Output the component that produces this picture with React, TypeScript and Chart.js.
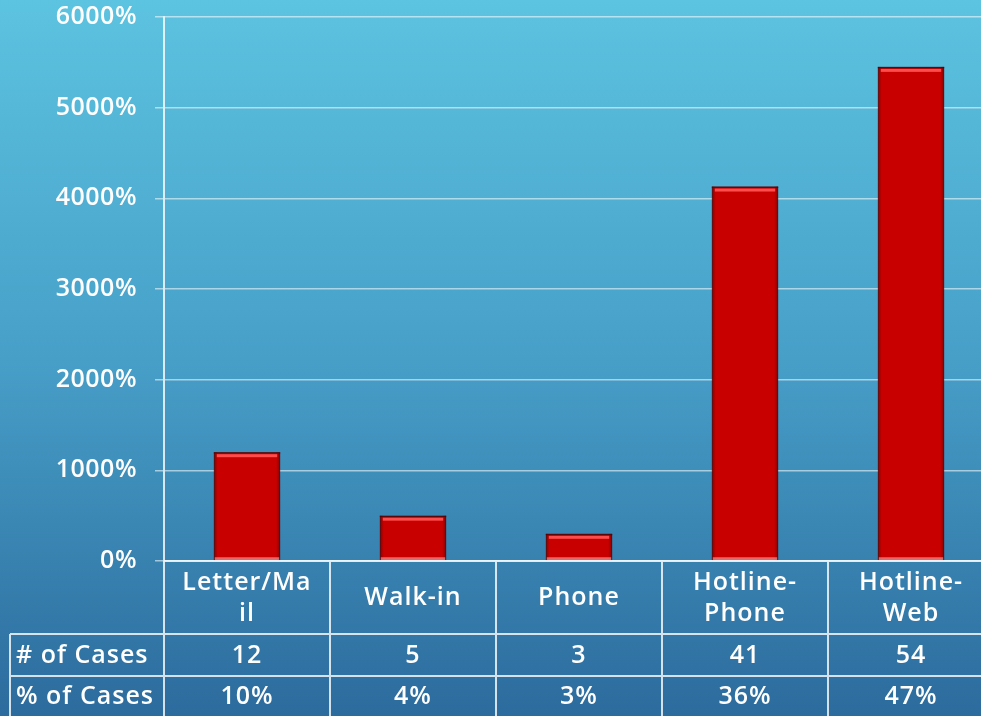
import React, { useEffect, useRef } from "react";
import { Chart, registerables } from "chart.js";

Chart.register(...registerables);

const categories = ["Letter/Mail", "Walk-in", "Phone", "Hotline-Phone", "Hotline-Web"];
const categoryLines = [["Letter/Ma", "il"], ["Walk-in"], ["Phone"], ["Hotline-", "Phone"], ["Hotline-", "Web"]];
const barValues = [1200, 500, 300, 4130, 5450];
const caseCounts = ["12", "5", "3", "41", "54"];
const casePercents = ["10%", "4%", "3%", "36%", "47%"];
const rowLabels = ["# of Cases", "% of Cases"];
const yMax = 6000;
const yStep = 1000;

const FONT = "'Open Sans', Lato, sans-serif";

const spacing = {
  id: "spacing",
  beforeDraw(chart: any) {
    chart.ctx.letterSpacing = "0.5px";
  },
};

const barDecor = {
  id: "barDecor",
  afterDatasetsDraw(chart: any) {
    const ctx = chart.ctx;
    const meta = chart.getDatasetMeta(0);
    meta.data.forEach((el: any) => {
      const { x, y, base, width } = el.getProps(["x", "y", "base", "width"], true);
      const l = x - width / 2;
      const r = x + width / 2;
      ctx.save();
      const g = ctx.createLinearGradient(l, 0, r, 0);
      g.addColorStop(0, "rgba(80,0,0,0.55)");
      g.addColorStop(0.06, "rgba(80,0,0,0)");
      g.addColorStop(0.94, "rgba(80,0,0,0)");
      g.addColorStop(1, "rgba(80,0,0,0.6)");
      ctx.fillStyle = g;
      ctx.fillRect(l, y, width, base - y);
      ctx.fillStyle = "rgba(255,80,80,0.95)";
      ctx.fillRect(l + 3, y + 2, width - 6, 3);
      ctx.fillStyle = "rgba(90,0,0,0.8)";
      ctx.fillRect(l, y, width, 1.5);
      ctx.fillStyle = "rgba(255,190,190,0.55)";
      ctx.fillRect(l + 1, base - 3, width - 2, 3);
      ctx.restore();
    });
  },
};

const tablePlugin = {
  id: "dataTable",
  afterDraw(chart: any) {
    const ctx = chart.ctx;
    const area = chart.chartArea;
    const xs = chart.scales.x;
    const n = categories.length;
    const colW = (area.right - area.left) / n;
    const top = area.bottom;
    const r1 = top + 73;
    const r2 = r1 + 42;
    const bottom = r2 + 44;
    const leftEdge = 10;
    ctx.save();
    ctx.strokeStyle = "rgba(255,255,255,0.8)";
    ctx.lineWidth = 2;
    ctx.beginPath();
    ctx.moveTo(area.left, top);
    ctx.lineTo(chart.width, top);
    ctx.moveTo(leftEdge, r1);
    ctx.lineTo(chart.width, r1);
    ctx.moveTo(leftEdge, r2);
    ctx.lineTo(chart.width, r2);
    ctx.moveTo(leftEdge, r1);
    ctx.lineTo(leftEdge, bottom);
    for (let i = 0; i <= n; i++) {
      const vx = area.left + i * colW;
      ctx.moveTo(vx, top);
      ctx.lineTo(vx, bottom);
    }
    ctx.stroke();

    ctx.fillStyle = "#ffffff";
    ctx.font = `600 25px ${FONT}`;
    ctx.letterSpacing = "1px";
    ctx.textBaseline = "middle";
    ctx.textAlign = "center";
    categoryLines.forEach((lines, i) => {
      const cx = xs.getPixelForValue(i);
      if (lines.length === 1) {
        ctx.fillText(lines[0], cx, top + 37);
      } else {
        ctx.fillText(lines[0], cx, top + 22);
        ctx.fillText(lines[1], cx, top + 53);
      }
      ctx.fillText(caseCounts[i], cx, r1 + 22);
      ctx.fillText(casePercents[i], cx, r2 + 21);
    });
    ctx.textAlign = "left";
    ctx.fillText(rowLabels[0], 16, r1 + 22);
    ctx.fillText(rowLabels[1], 16, r2 + 21);
    ctx.restore();
  },
};

export default function App() {
  const ref = useRef<HTMLCanvasElement>(null);
  useEffect(() => {
    if (!ref.current) return;
    const chart = new Chart(ref.current, {
      type: "bar",
      data: {
        labels: categories,
        datasets: [
          {
            data: barValues,
            backgroundColor: "#c80000",
            borderColor: "#6e0000",
            borderWidth: 1,
            barPercentage: 0.4,
            categoryPercentage: 1,
          },
        ],
      },
      options: {
        animation: false,
        responsive: false,
        devicePixelRatio: 1,
        layout: { padding: { left: 0, right: 6, top: 17, bottom: 155 } },
        plugins: { legend: { display: false }, tooltip: { enabled: false } },
        scales: {
          x: { display: false },
          y: {
            min: 0,
            max: yMax,
            afterFit: (s: any) => {
              s.width = 164;
              s.paddingTop = 0;
              s.paddingBottom = 0;
            },
            ticks: {
              stepSize: yStep,
              color: "#ffffff",
              padding: 18,
              font: { family: FONT, size: 25, weight: "600" },
              callback: (v: any) => `${v}%`,
            },
            grid: {
              color: "rgba(255,255,255,0.55)",
              lineWidth: 1.5,
              tickLength: 9,
              drawTicks: true,
            },
            border: { display: true, color: "rgba(255,255,255,0.8)", width: 2 },
          },
        },
      },
      plugins: [spacing, barDecor, tablePlugin],
    });
    return () => chart.destroy();
  }, []);
  return (
    <div
      style={{
        position: "fixed",
        left: 0,
        top: 0,
        width: 981,
        height: 716,
        overflow: "hidden",
        background: "linear-gradient(to bottom, #5cc3e0 0%, #479fc8 50%, #2c6b9d 100%)",
      }}
    >
      <canvas ref={ref} width={1000} height={716} style={{ display: "block" }} />
    </div>
  );
}
